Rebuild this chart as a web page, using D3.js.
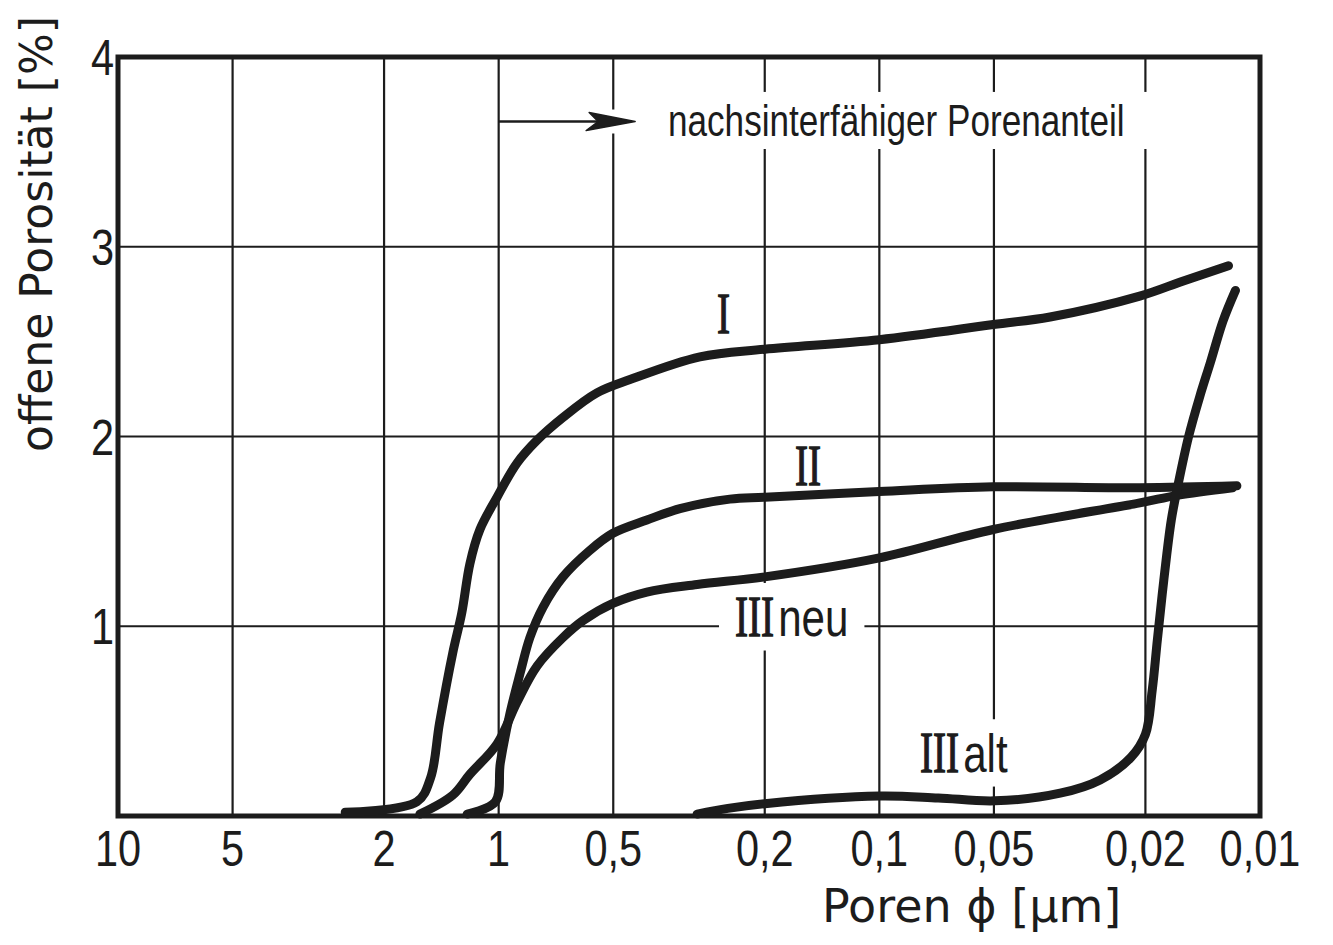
<!DOCTYPE html>
<html>
<head>
<meta charset="utf-8">
<script src="https://cdn.jsdelivr.net/npm/d3@7"></script>
<style>
    html, body { margin: 0; padding: 0; background: #fff; }
    svg { display: block; }
</style>
</head>
<body>
<div id="chart"></div>
<script>
(function () {
    "use strict";

    // pore diameter ticks (µm), log axis running from large to small
    const xTicks = [10, 5, 2, 1, 0.5, 0.2, 0.1, 0.05, 0.02, 0.01];
    const xTickLabels = ["10", "5", "2", "1", "0,5", "0,2", "0,1", "0,05", "0,02", "0,01"];
    const yTicks = [1, 2, 3, 4];
    const yTickLabels = ["1", "2", "3", "4"];

    // [diameter µm, open porosity %]
    const curveI = [
        [2.53, 0.02], [1.64, 0.075], [1.51, 0.2], [1.43, 0.49], [1.32, 0.86],
        [1.25, 1.07], [1.19, 1.33], [1.12, 1.51], [1.01, 1.68], [0.895, 1.86],
        [0.793, 1.98], [0.678, 2.10], [0.552, 2.23], [0.452, 2.30], [0.296, 2.42],
        [0.2, 2.46], [0.1, 2.51], [0.0502, 2.59], [0.0356, 2.63], [0.0207, 2.74],
        [0.0159, 2.82], [0.0121, 2.90]
    ];
    const curveII = [
        [1.21, 0.01], [1.02, 0.075], [0.99, 0.28], [0.934, 0.54], [0.879, 0.75],
        [0.828, 0.94], [0.765, 1.10], [0.678, 1.26], [0.576, 1.40], [0.501, 1.49],
        [0.408, 1.56], [0.334, 1.62], [0.247, 1.67], [0.2, 1.68], [0.1, 1.71],
        [0.0502, 1.735], [0.0207, 1.73], [0.0115, 1.74]
    ];
    const curveIIIneu = [
        [1.61, 0.01], [1.32, 0.11], [1.19, 0.22], [1.01, 0.38], [0.895, 0.60],
        [0.793, 0.79], [0.678, 0.94], [0.600, 1.03], [0.501, 1.12], [0.408, 1.18],
        [0.301, 1.22], [0.2, 1.26], [0.1, 1.36], [0.0502, 1.51], [0.0207, 1.65],
        [0.0165, 1.69], [0.0118, 1.73]
    ];
    const curveIIIalt = [
        [0.301, 0.01], [0.25, 0.04], [0.2, 0.065], [0.1, 0.105], [0.07, 0.095],
        [0.0497, 0.08], [0.0335, 0.12], [0.0263, 0.19], [0.0218, 0.31], [0.0200, 0.43],
        [0.0192, 0.66], [0.0186, 0.93], [0.0179, 1.24], [0.0171, 1.56], [0.0164, 1.75],
        [0.0154, 2.00], [0.0144, 2.21], [0.0135, 2.39], [0.0125, 2.61], [0.0116, 2.77]
    ];
    const curves = [curveI, curveII, curveIIIneu, curveIIIalt];

    const labelRoman = ["I", "II", "III", "III"];
    const labelSuffix = ["", "", "neu", "alt"];
    const labelAt = [[0.267, 2.545], [0.1665, 1.744], [0.2394, 0.949], [0.0782, 0.232]];

    const noteText = "nachsinterfähiger Porenanteil";
    const noteArrow = [[1, 3.66], [0.438, 3.66]];
    const noteTextAt = [0.359, 3.584];

    const width = 1333;
    const height = 945;
    const ink = "#1c1c1c";
    const sansNarrow = "'Liberation Sans Narrow', 'Liberation Sans', Arial, sans-serif";
    const squeeze = 0.83;

    const x = d3.scaleLog().domain([10, 0.01]).range([118, 1260]);
    const y = d3.scaleLinear().domain([0, 4]).range([816, 57]);

    const svg = d3.select("#chart").append("svg")
        .attr("width", width)
        .attr("height", height);

    const gridLayer = svg.append("g");
    const frameLayer = svg.append("g");
    const curveLayer = svg.append("g");
    const labelLayer = svg.append("g");

    // curve labels; the ones with a suffix sit on the grid and break it
    labelRoman.forEach(function (roman, i) {
        const g = labelLayer.append("g")
            .classed("cut", !!labelSuffix[i])
            .attr("data-pad", 16)
            .attr("transform", `translate(${x(labelAt[i][0])},${y(labelAt[i][1])})`);
        const t = g.append("text")
            .attr("transform", "scale(0.7,1)")
            .attr("font-family", "'Liberation Serif', 'DejaVu Serif', serif")
            .attr("font-size", 56)
            .attr("fill", ink)
            .attr("stroke", ink)
            .attr("stroke-width", 1.3)
            .text(roman);
        if (labelSuffix[i]) {
            const w = t.node().getComputedTextLength() * 0.7;
            g.append("text")
                .attr("transform", `translate(${w + 4},0) scale(0.78,1)`)
                .attr("font-family", sansNarrow)
                .attr("font-size", 54)
                .attr("fill", ink)
                .text(labelSuffix[i]);
        }
    });

    // annotation arrow + text
    const ax0 = x(noteArrow[0][0]);
    const ax1 = x(noteArrow[1][0]);
    const ay = y(noteArrow[0][1]);
    labelLayer.append("line")
        .attr("x1", ax0).attr("x2", ax1 - 30)
        .attr("y1", ay).attr("y2", ay)
        .attr("stroke", ink)
        .attr("stroke-width", 2.5);
    labelLayer.append("path")
        .attr("class", "cut")
        .attr("data-pad", 16)
        .attr("d", `M${ax1},${ay} L${ax1 - 46},${ay - 9} L${ax1 - 37},${ay} L${ax1 - 49},${ay + 9} Z`)
        .attr("fill", ink)
        .attr("stroke", ink)
        .attr("stroke-width", 1.5)
        .attr("stroke-linejoin", "round");
    const note = labelLayer.append("text")
        .attr("class", "cut")
        .attr("data-pad", 26)
        .attr("x", x(noteTextAt[0]))
        .attr("y", y(noteTextAt[1]))
        .attr("font-family", sansNarrow)
        .attr("font-size", 45)
        .attr("fill", ink)
        .text(noteText);
    note.attr("textLength", note.node().getComputedTextLength() * 0.78)
        .attr("lengthAdjust", "spacingAndGlyphs");

    // boxes that the grid lines stop at
    const boxes = [];
    labelLayer.selectAll(".cut").each(function () {
        const r = this.getBoundingClientRect();
        const pad = +this.getAttribute("data-pad");
        boxes.push({ x0: r.left - pad, x1: r.right + pad, y0: r.top - 3, y1: r.bottom + 3 });
    });

    function pieces(c, a0, a1, along) {
        const cuts = boxes
            .filter(b => along === "v" ? (c >= b.x0 && c <= b.x1) : (c >= b.y0 && c <= b.y1))
            .map(b => along === "v" ? [b.y0, b.y1] : [b.x0, b.x1])
            .sort((p, q) => p[0] - q[0]);
        const out = [];
        let cur = a0;
        cuts.forEach(function (cut) {
            if (cut[0] > cur) out.push([cur, Math.min(cut[0], a1)]);
            cur = Math.max(cur, cut[1]);
        });
        if (cur < a1) out.push([cur, a1]);
        return out;
    }

    const [xl, xr] = x.range();
    const [yb, yt] = y.range();

    xTicks.slice(1, -1).forEach(function (d) {
        const px = x(d);
        pieces(px, yt, yb, "v").forEach(function (s) {
            gridLayer.append("line")
                .attr("x1", px).attr("x2", px)
                .attr("y1", s[0]).attr("y2", s[1])
                .attr("stroke", ink)
                .attr("stroke-width", 2.2);
        });
    });
    yTicks.slice(0, -1).forEach(function (d) {
        const py = y(d);
        pieces(py, xl, xr, "h").forEach(function (s) {
            gridLayer.append("line")
                .attr("x1", s[0]).attr("x2", s[1])
                .attr("y1", py).attr("y2", py)
                .attr("stroke", ink)
                .attr("stroke-width", 2.2);
        });
    });

    frameLayer.append("rect")
        .attr("x", xl).attr("y", yt)
        .attr("width", xr - xl).attr("height", yb - yt)
        .attr("fill", "none")
        .attr("stroke", ink)
        .attr("stroke-width", 5);

    // tick labels
    frameLayer.selectAll(".xlab")
        .data(xTicks)
        .join("text")
        .attr("class", "xlab")
        .attr("transform", d => `translate(${x(d)},866) scale(${squeeze},1)`)
        .attr("text-anchor", "middle")
        .attr("font-family", sansNarrow)
        .attr("font-size", 50)
        .attr("fill", ink)
        .text((d, i) => xTickLabels[i]);

    frameLayer.selectAll(".ylab")
        .data(yTicks)
        .join("text")
        .attr("class", "ylab")
        .attr("transform", d => `translate(${xl - 4},${y(d) + 18}) scale(${squeeze},1)`)
        .attr("text-anchor", "end")
        .attr("font-family", sansNarrow)
        .attr("font-size", 50)
        .attr("fill", ink)
        .text((d, i) => yTickLabels[i]);

    // axis titles
    frameLayer.append("text")
        .attr("transform", "translate(52,234) rotate(-90)")
        .attr("text-anchor", "middle")
        .attr("font-family", "'DejaVu Sans', sans-serif")
        .attr("font-size", 44)
        .attr("fill", ink)
        .text("offene Porosität [%]");

    frameLayer.append("text")
        .attr("x", 822)
        .attr("y", 922)
        .attr("font-family", "'DejaVu Sans', sans-serif")
        .attr("font-size", 46)
        .attr("fill", ink)
        .text("Poren \u03d5 [µm]");

    // curves
    const line = d3.line()
        .x(d => x(d[0]))
        .y(d => y(d[1]))
        .curve(d3.curveCatmullRom.alpha(0.5));

    curveLayer.selectAll("path")
        .data(curves)
        .join("path")
        .attr("d", line)
        .attr("fill", "none")
        .attr("stroke", ink)
        .attr("stroke-width", 9)
        .attr("stroke-linecap", "round")
        .attr("stroke-linejoin", "round");
}());
</script>
</body>
</html>
